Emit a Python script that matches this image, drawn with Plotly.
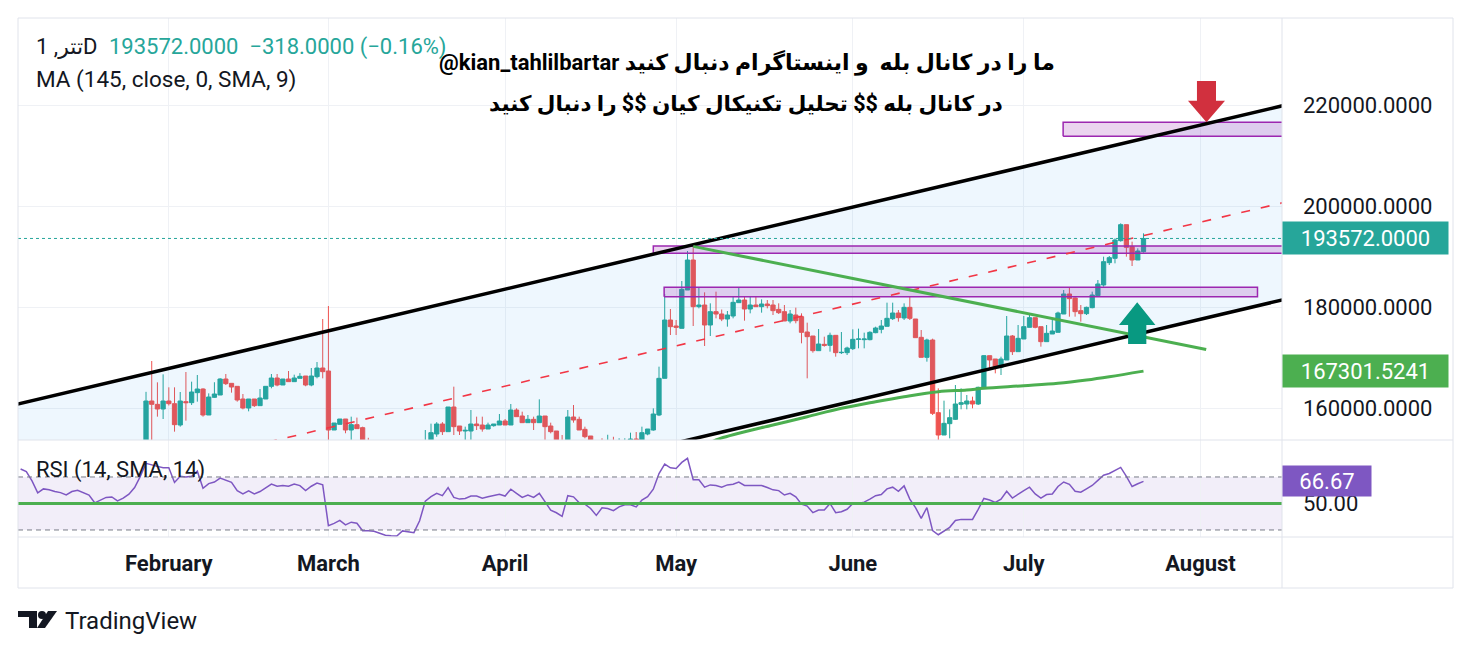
import pandas as pd
import plotly.graph_objects as go
from plotly.subplots import make_subplots

# ---------------- data ----------------
FIRST_DAY = "2025-01-28"

opens = [150500, 161386, 160726, 159802, 161386, 160858, 156634, 161254, 161056, 163036,
         163762, 158614, 162112, 162574, 165743, 164884, 164290, 161782, 160000, 161782,
         160462, 161782, 164290, 165941, 164554, 165743, 165214, 165875, 166337, 164554,
         166205, 167921, 167327, 155644, 156766, 157822, 155644, 156700, 156106, 153000,
         151500, 150200, 149000, 149800, 148600, 149400, 150600, 151400, 152200, 152800,
         153300, 154851, 156832, 155313, 160198, 156436, 155446, 155446, 156832, 156634,
         155842, 156501, 156634, 157426, 156634, 159604, 158416, 157096, 157756, 157096,
         158416, 156436, 155446, 152800, 152500, 158218, 157756, 155777, 154456, 152600,
         152000, 151800, 152300, 152000, 152400, 153000, 153861, 153663, 154851, 155644,
         158614, 165875, 177426, 176238, 175776, 183366, 189307, 180066, 180396, 176436,
         179076, 178614, 177624, 178218, 180858, 181386, 179604, 180396, 180066, 180594,
         180396, 179538, 179076, 177228, 178416, 178086, 175049, 174257, 171353, 172607,
         172409, 174389, 170957, 170957, 171749, 173598, 173532, 173532, 174917, 175578,
         176172, 177690, 178812, 177822, 179934, 177624, 173994, 170033, 173466, 159076,
         154653, 156898, 157756, 160726, 160792, 161386, 160792, 164026, 170363, 169703,
         168053, 169505, 174257, 171155, 173663, 175974, 177888, 176106, 173136, 174653,
         174983, 178614, 182574, 181782, 179274, 178680, 179868, 182244, 184356, 188779,
         189637, 193135, 196303, 191947, 189307, 190957]
highs = [163200, 169307, 165083, 166667, 164093, 164093, 163168, 167129, 165214, 166535,
         163900, 162900, 165100, 165900, 166733, 164884, 164290, 162772, 161782, 161782,
         163762, 164290, 166733, 166733, 165743, 167327, 166600, 166900, 166337, 167921,
         169109, 177624, 180198, 157030, 157822, 157822, 158283, 158100, 156300, 154100,
         152400, 151000, 150600, 150200, 150000, 151200, 152200, 153000, 153500, 155644,
         156900, 157200, 157200, 160198, 164224, 156436, 156303, 159604, 158283, 158283,
         157096, 156832, 158812, 157822, 160792, 159934, 159274, 158614, 158283, 161717,
         158416, 157096, 155446, 154653, 159604, 160594, 158283, 156303, 154456, 153300,
         154000, 154700, 154300, 154000, 154000, 155115, 155244, 156303, 155842, 159934,
         168185, 182575, 179604, 177426, 185149, 191089, 192079, 183829, 182905, 180726,
         183037, 179500, 179208, 182046, 183829, 182046, 182178, 182046, 181518, 181386,
         181386, 180726, 180396, 179406, 179868, 178747, 176898, 174257, 175643, 174125,
         174917, 174389, 175049, 172145, 175578, 175710, 174917, 175200, 176100, 177426,
         180858, 180858, 179406, 180726, 182046, 177624, 175446, 173730, 173730, 163895,
         161452, 159736, 164554, 163895, 162574, 162244, 164224, 170495, 170363, 169703,
         170165, 178218, 174455, 176436, 178218, 178416, 177888, 176106, 176436, 177426,
         179076, 183366, 183895, 181914, 180396, 180066, 183037, 185346, 189967, 190099,
         193597, 196567, 196303, 192937, 191617, 194587]
lows = [149800, 152000, 158283, 157822, 160500, 155313, 156303, 157491, 160600, 161254,
        158283, 158614, 162000, 162574, 164554, 163036, 161254, 159736, 159340, 160200,
        160462, 161782, 163900, 164300, 164554, 165214, 165214, 165875, 164300, 164300,
        165875, 165875, 153500, 155644, 156766, 155000, 153500, 155908, 152500, 150800,
        149500, 148200, 148000, 147800, 148000, 149000, 150000, 150800, 151600, 152400,
        153000, 154300, 154653, 155313, 154653, 154653, 153663, 153663, 155644, 155313,
        155842, 156303, 156634, 156634, 156634, 158283, 157096, 157096, 155644, 157096,
        153663, 154983, 152000, 152000, 152500, 157096, 155644, 154000, 152000, 151500,
        151200, 151400, 151600, 151500, 152000, 152600, 153300, 153200, 154600, 155500,
        158400, 165875, 174455, 174455, 175776, 183366, 176238, 179736, 172277, 174257,
        177756, 177200, 176106, 177756, 180792, 177294, 178747, 180066, 178879, 179736,
        178416, 178614, 177228, 176766, 176766, 172805, 165875, 170957, 171353, 172145,
        171155, 170165, 170693, 170495, 171485, 171815, 171815, 173400, 174800, 174785,
        176172, 177426, 177096, 177426, 177426, 173928, 170033, 169175, 158614, 153663,
        154653, 153993, 157624, 159736, 159736, 159934, 160594, 164026, 167525, 166865,
        166535, 169505, 170495, 171155, 173663, 175974, 175776, 172145, 173136, 174653,
        174983, 178614, 178086, 178086, 177096, 178414, 179736, 182178, 184026, 188317,
        188647, 192937, 189967, 188119, 189307, 190759]
closes = [161386, 160726, 159802, 161386, 160858, 156700, 161386, 161056, 163168, 163762,
          158614, 162178, 162772, 165743, 164818, 164158, 161584, 160000, 161782, 160462,
          161980, 164290, 165941, 164554, 165743, 165214, 165941, 166271, 164554, 166337,
          167921, 167195, 155644, 157030, 157822, 155644, 156700, 155908, 153000, 151500,
          150200, 149000, 149800, 148600, 149400, 150600, 151400, 152200, 152800, 153400,
          155115, 156832, 155313, 160198, 156303, 155446, 155578, 156832, 156501, 155842,
          156634, 156832, 157426, 156634, 159604, 158283, 157096, 157756, 157096, 158416,
          156303, 155313, 152800, 152500, 158218, 157624, 155644, 154323, 152600, 152000,
          151800, 152300, 152000, 152400, 153000, 153861, 153700, 155115, 155842, 158812,
          165875, 177426, 176106, 175974, 183499, 189307, 180066, 180396, 176436, 179076,
          178614, 177624, 178416, 180924, 181386, 179604, 180396, 180066, 180594, 180264,
          179274, 178879, 177228, 178614, 177294, 174983, 174125, 171353, 172673, 172409,
          174389, 170957, 171020, 171881, 173598, 173664, 173664, 174983, 175842, 176238,
          177756, 178812, 177888, 179934, 177756, 173928, 170033, 173466, 158944, 154653,
          156964, 158086, 160792, 161056, 161386, 160792, 164093, 170363, 169505, 168053,
          169703, 174257, 171155, 173796, 176106, 177888, 175974, 173136, 174785, 175248,
          178812, 182574, 181650, 179076, 178680, 179934, 182376, 184554, 188977, 189769,
          193267, 196303, 191815, 189307, 191089, 193572]

# RSI (14), one value per day starting 2025-01-06
RSI_FIRST_DAY = "2025-01-06"
rsi_values = [76, 74, 67, 58, 61, 60.3, 59, 58.2, 56.4, 59,
              60, 58.5, 56.4, 50.5, 52.6, 54.6, 54.9, 52, 54, 57,
              62, 70.5, 80.3, 79, 78, 77, 77, 65.9, 70.5, 70,
              70.5, 74.4, 61.5, 65, 66.2, 69.2, 67.4, 66, 59.7, 57.2,
              59.5, 57.2, 59, 61.5, 64.6, 63, 63.6, 63, 64.6, 63.5,
              59.7, 63, 65.4, 64.1, 33.3, 35, 37.2, 33.8, 35.9, 35.1,
              29.5, 29.5, 29, 27.5, 26, 25.6, 25.5, 29.3, 28.6, 28,
              37, 51.8, 55.1, 57.7, 55.9, 62, 54.6, 53.3, 53.8, 55.6,
              55.6, 54, 55.1, 56, 56.9, 55.6, 60.8, 57.7, 54.6, 56.4,
              54.6, 57.7, 51, 45, 43, 40.3, 55.9, 55, 50.5, 49.5,
              46.2, 41, 46.7, 46.2, 44.6, 47.4, 49, 49, 47.4, 52.6,
              55.1, 60.8, 72.6, 79.7, 76.9, 76.4, 81, 84.1, 67.9, 67.9,
              62.3, 64, 63.6, 62.3, 64, 64.5, 66.2, 63.6, 63.6, 63.6,
              63.6, 62, 60.3, 59.7, 56.4, 57.7, 55, 49.5, 48, 43.1,
              45.1, 45, 50, 43.1, 43.8, 45.6, 50, 50, 51, 53.3,
              55.9, 56.7, 61, 62.3, 59.2, 63.3, 53.3, 46.9, 38.7, 46.9,
              29.5, 26.4, 29.5, 32, 37.2, 38, 38, 38, 45.6, 53.8,
              52.6, 50.8, 53.3, 59.2, 54.1, 57.2, 59.7, 62.3, 57.2, 54.1,
              56.7, 57.2, 62.8, 66.2, 64.4, 59.2, 58.5, 61, 63.6, 67.4,
              71.3, 72.6, 75.1, 77.2, 70.5, 62.8, 64.9, 66.67]

# MA (145) readings: day offset from FIRST_DAY, value
ma_days = [98, 100, 104, 110, 116, 122, 128, 133, 139, 144, 147, 154, 160, 165, 169, 175]
ma_values = [152475, 153663, 154990, 156634, 158277, 159941, 161247, 162238, 163228,
             163564, 163901, 164416, 164891, 165545, 166198, 167301.5241]

month_ticks = ["2025-02-01", "2025-03-01", "2025-04-01", "2025-05-01",
               "2025-06-01", "2025-07-01", "2025-08-01"]
month_labels = ["February", "March", "April", "May", "June", "July", "August"]
price_ticks = [160000, 180000, 200000, 220000]
last_price = 193572
ma_last = 167301.5241
rsi_last = 66.67

# drawings (day offsets from FIRST_DAY, prices)
channel_days = [-23, 200]
channel_upper = [160649, 220012]
channel_lower = [122214, 181577]
trend_days = [96, 186]
trend_prices = [192000, 171600]
zones = [  # day0, day1, price_lo, price_hi
    (160.9, 210, 213801, 216573),
    (89.0, 210, 190634, 192079),
    (90.9, 195.0, 182040, 183900),
]
down_arrow_tip = (186.05, 216573)
up_arrow_tip = (173.9, 180930)

# ---------------- helpers ----------------
T0 = pd.Timestamp(FIRST_DAY)
BODY = 8  # page body margin of the html page


def day(t):
    return T0 + pd.to_timedelta(t, unit="D")


def px(x):
    return (x - 18) / 1264.0


def py(y):
    return (537 - y) / 519.0


FONT = "Roboto, Noto Sans, DejaVu Sans, sans-serif"
TXT = "#131722"
TEAL = "#26a69a"
RED = "#ef5350"

dates = pd.date_range(FIRST_DAY, periods=len(closes), freq="D")
rsi_dates = pd.date_range(RSI_FIRST_DAY, periods=len(rsi_values), freq="D")

fig = make_subplots(rows=2, cols=1, shared_xaxes=True, vertical_spacing=0,
                    row_heights=[422, 97])

# channel fill
fig.add_trace(go.Scatter(x=[day(t) for t in channel_days], y=channel_lower, mode="lines",
                         line=dict(width=0), hoverinfo="skip"), row=1, col=1)
fig.add_trace(go.Scatter(x=[day(t) for t in channel_days], y=channel_upper, mode="lines",
                         line=dict(width=0), fill="tonexty",
                         fillcolor="rgba(33,150,243,0.075)", hoverinfo="skip"), row=1, col=1)

# candles
fig.add_trace(go.Candlestick(
    x=dates, open=opens, high=highs, low=lows, close=closes,
    increasing=dict(line=dict(color=TEAL, width=1), fillcolor=TEAL),
    decreasing=dict(line=dict(color=RED, width=1), fillcolor=RED),
    whiskerwidth=0, hoverinfo="skip"), row=1, col=1)

# MA
fig.add_trace(go.Scatter(x=[day(t) for t in ma_days], y=ma_values, mode="lines",
                         line=dict(color="#4caf50", width=3, shape="spline"),
                         hoverinfo="skip"), row=1, col=1)

# zones
for d0, d1, lo, hi in zones:
    fig.add_trace(go.Scatter(x=[day(d0), day(d1), day(d1), day(d0), day(d0)],
                             y=[lo, lo, hi, hi, lo], mode="lines", fill="toself",
                             fillcolor="rgba(156,39,176,0.2)",
                             line=dict(color="#9c27b0", width=1.5), hoverinfo="skip"),
                  row=1, col=1)

# channel lines
mid = [(a + b) / 2 for a, b in zip(channel_upper, channel_lower)]
fig.add_trace(go.Scatter(x=[day(t) for t in channel_days], y=mid, mode="lines",
                         line=dict(color="#f23645", width=1.6, dash="9px,11px"),
                         hoverinfo="skip"), row=1, col=1)
for ys in (channel_upper, channel_lower):
    fig.add_trace(go.Scatter(x=[day(t) for t in channel_days], y=ys, mode="lines",
                             line=dict(color="#000000", width=3.5), hoverinfo="skip"),
                  row=1, col=1)

# green trend line
fig.add_trace(go.Scatter(x=[day(t) for t in trend_days], y=trend_prices, mode="lines",
                         line=dict(color="#4caf50", width=3), hoverinfo="skip"),
              row=1, col=1)


def arrow(tip, direction, head_half, head_len, shaft_half, shaft_len):
    t, p = tip
    s = direction
    xs = [t, t - head_half, t - shaft_half, t - shaft_half, t + shaft_half, t + shaft_half,
          t + head_half, t]
    ys = [p, p + s * head_len, p + s * head_len, p + s * (head_len + shaft_len),
          p + s * (head_len + shaft_len), p + s * head_len, p + s * head_len, p]
    return [day(v) for v in xs], ys


ax, ay = arrow(down_arrow_tip, 1, 3.25, 4278, 1.67, 3899)
fig.add_trace(go.Scatter(x=ax, y=ay, mode="lines", fill="toself", fillcolor="#d1303e",
                         line=dict(width=0), hoverinfo="skip"), row=1, col=1)
ax, ay = arrow(up_arrow_tip, -1, 3.2, 4494, 1.6, 3763)
fig.add_trace(go.Scatter(x=ax, y=ay, mode="lines", fill="toself", fillcolor="#089981",
                         line=dict(width=0), hoverinfo="skip"), row=1, col=1)

# RSI
fig.add_trace(go.Scatter(x=rsi_dates, y=rsi_values, mode="lines",
                         line=dict(color="#7e57c2", width=1.5), hoverinfo="skip"),
              row=2, col=1)

x_range = [day(-22.46), day(199.3)]
fig.update_xaxes(range=x_range, tickvals=month_ticks, ticktext=month_labels,
                 showgrid=True, gridcolor="#eff1f5", gridwidth=1, zeroline=False,
                 showline=False, rangeslider_visible=False, fixedrange=True)
fig.update_xaxes(showticklabels=False, row=1, col=1)
fig.update_xaxes(showticklabels=True, ticks="", ticklabelstandoff=11,
                 tickfont=dict(family=FONT, size=22, color=TXT, weight="bold"),
                 row=2, col=1)

fig.update_yaxes(side="right", range=[153663, 237228], tickvals=price_ticks,
                 ticktext=[f"{v:.4f}" for v in price_ticks], showgrid=True,
                 gridcolor="#eff1f5", zeroline=False, showline=False, ticks="",
                 ticklabelstandoff=20, tickfont=dict(family=FONT, size=22, color=TXT),
                 row=1, col=1)
fig.update_yaxes(side="right", range=[24.7, 97.9], tickvals=[50], ticktext=["50.00"],
                 showgrid=False, zeroline=False, showline=False, ticks="",
                 ticklabelstandoff=20, tickfont=dict(family=FONT, size=22, color=TXT),
                 row=2, col=1)

shapes = []
# RSI band and levels
shapes.append(dict(type="rect", xref="x2 domain", yref="y2", x0=0, x1=1, y0=30, y1=70,
                   fillcolor="rgba(126,87,194,0.1)", line=dict(width=0), layer="below"))
for lvl in (30, 70):
    shapes.append(dict(type="line", xref="x2 domain", yref="y2", x0=0, x1=1, y0=lvl, y1=lvl,
                       line=dict(color="#787b86", width=1, dash="5px,4px")))
shapes.append(dict(type="line", xref="x2 domain", yref="y2", x0=0, x1=1, y0=50, y1=50,
                   line=dict(color="#4caf50", width=3)))
# last price dotted line
shapes.append(dict(type="line", xref="x domain", yref="y", x0=0, x1=1, y0=last_price,
                   y1=last_price, line=dict(color=TEAL, width=1, dash="dot")))
# frame & separators
FR = "#e0e3eb"
shapes.append(dict(type="rect", xref="paper", yref="paper", x0=0, x1=px(1453), y0=py(588),
                   y1=1, line=dict(color=FR, width=1)))
shapes.append(dict(type="line", xref="paper", yref="paper", x0=1, x1=1, y0=py(588), y1=1,
                   line=dict(color=FR, width=1)))
for yy in (440, 537):
    shapes.append(dict(type="line", xref="paper", yref="paper", x0=0, x1=px(1453),
                       y0=py(yy), y1=py(yy), line=dict(color=FR, width=1)))


# TradingView logo
def ppath(pts):
    return "M" + " L".join(f"{px(a):.5f},{py(b):.5f}" for a, b in pts) + " Z"


shapes.append(dict(type="path", xref="paper", yref="paper", line=dict(width=0),
                   fillcolor=TXT,
                   path=ppath([(18, 611), (37, 611), (37, 628), (29, 628), (29, 617), (18, 617)])))
shapes.append(dict(type="circle", xref="paper", yref="paper", line=dict(width=0),
                   fillcolor=TXT, x0=px(38), x1=px(46), y0=py(619), y1=py(611)))
shapes.append(dict(type="path", xref="paper", yref="paper", line=dict(width=0),
                   fillcolor=TXT,
                   path=ppath([(37, 628), (45, 628), (57, 611), (48, 611)])))

NB = "\u00a0"
annotations = [
    dict(x=px(34), y=py(47), text="تتر, 1D", font=dict(family=FONT, size=22, color=TXT),
         xanchor="left"),
    dict(x=px(107), y=py(47),
         text=f"193572.0000{NB}{NB}\u2212318.0000 (\u22120.16%)",
         font=dict(family=FONT, size=22, color=TEAL), xanchor="left"),
    dict(x=px(34), y=py(80), text="MA (145, close, 0, SMA, 9)",
         font=dict(family=FONT, size=22.5, color=TXT), xanchor="left"),
    dict(x=px(747), y=py(62),
         text="<b>@kian_tahlilbartar ما را در کانال بله" + NB + " و اینستاگرام دنبال کنید</b>",
         font=dict(family="Roboto, DejaVu Sans", size=22, color="#000000"), xanchor="center"),
    dict(x=px(746), y=py(103),
         text="<b>در کانال بله $$ تحلیل تکنیکال کیان $$ را دنبال کنید</b>",
         font=dict(family="Roboto, DejaVu Sans", size=21.5, color="#000000"), xanchor="center"),
    dict(x=px(34), y=py(470), text="RSI (14, SMA, 14)",
         font=dict(family=FONT, size=22, color=TXT), xanchor="left"),
    dict(x=px(63), y=py(621), text="TradingView",
         font=dict(family=FONT, size=24, color=TXT), xanchor="left"),
]
for a in annotations:
    a.update(xref="paper", yref="paper", yanchor="middle", showarrow=False)

# axis value labels
annotations += [
    dict(x=1, xref="paper", y=last_price, yref="y", text=f"{last_price:.4f}",
         bgcolor=TEAL, font=dict(family=FONT, size=22, color="white"), xanchor="left",
         yanchor="middle", showarrow=False, width=159, height=26, borderpad=3),
    dict(x=1, xref="paper", y=ma_last, yref="y", text=f"{ma_last:.4f}",
         bgcolor="#4caf50", font=dict(family=FONT, size=22, color="white"), xanchor="left",
         yanchor="middle", showarrow=False, width=159, height=26, borderpad=3),
    dict(x=1, xref="paper", y=rsi_last, yref="y2", text=f"{rsi_last:.2f}",
         bgcolor="#7e57c2", font=dict(family=FONT, size=22, color="white"), xanchor="left",
         yanchor="middle", showarrow=False, width=82, height=24, borderpad=3),
]

# the page body adds an 8px margin, so the figure is placed 8px in and sized to fit
W, H = 1473 - 2 * BODY, 654 - 2 * BODY
fig.update_layout(width=W, height=H,
                  margin=dict(l=18 - BODY, r=W - (1282 - BODY), t=18 - BODY,
                              b=H - (537 - BODY)),
                  paper_bgcolor="white", plot_bgcolor="white", showlegend=False,
                  shapes=shapes, annotations=annotations, boxgap=0.25, boxgroupgap=0,
                  font=dict(family=FONT, color=TXT))

fig.write_html("out.html")
